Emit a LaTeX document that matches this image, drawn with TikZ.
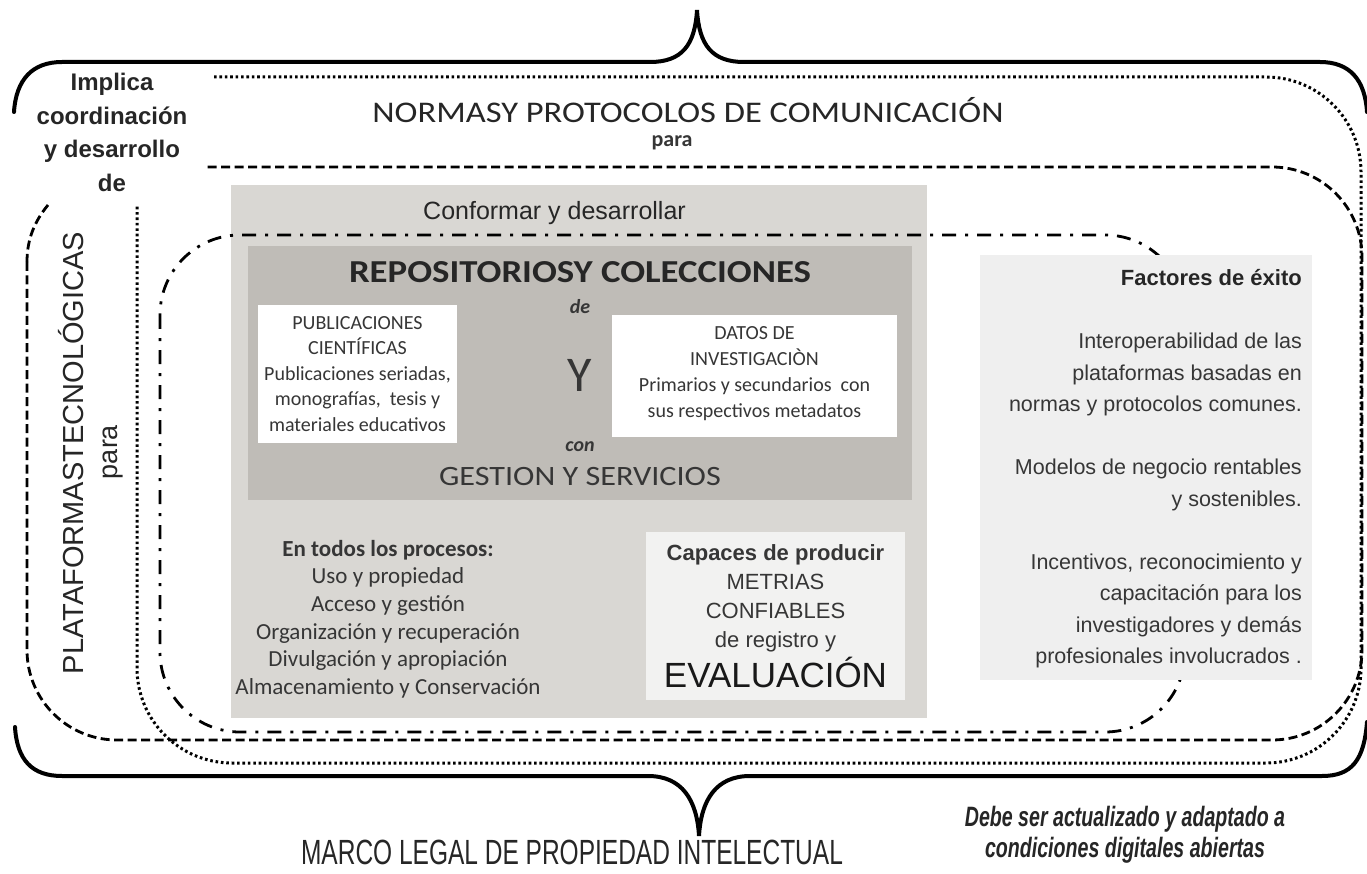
\documentclass[tikz,border=0pt]{standalone}
\usepackage{fontspec}
\setmainfont{Carlito}
\newfontfamily\titulo{Carlito}[FakeStretch=1.15]
\newfontfamily\arial{Liberation Sans}
\newfontfamily\estrecha{Liberation Sans}[FakeStretch=0.7]
\usepackage{xcolor}
\usepackage{tikz}
\usetikzlibrary{calc}
\usetikzlibrary{positioning}
\definecolor{grisclaro}{HTML}{D9D7D3}
\definecolor{grisoscuro}{HTML}{BFBCB7}
\definecolor{grisfondo}{HTML}{F2F2F1}
\definecolor{grisfactor}{HTML}{EFEFEF}
\definecolor{gristexto}{HTML}{363636}
\newcommand{\tam}[2]{\fontsize{#1pt}{#2pt}\selectfont}
\tikzstyle{llave} = [line width=4pt, line cap=round]
\tikzstyle{punteado} = [line width=3pt, dash pattern=on 2.6pt off 2.8pt]
\tikzstyle{rayado} = [line width=2.8pt, dash pattern=on 9pt off 4.5pt]
\tikzstyle{rayapunto} = [line width=2.8pt, dash pattern=on 14pt off 9pt on 3pt off 9pt]
\tikzstyle{caja} = [inner sep=0pt, outer sep=0pt, draw=none]
\tikzstyle{texto} = [inner sep=0pt, align=center, text=gristexto]

\begin{document}
\begin{tikzpicture}[x=1pt, y=-1pt]
\fill[white] (0,0) rectangle (1367,874);
\useasboundingbox (0,0) rectangle (1367,874);
% llaves
\draw[llave] (14,112) .. controls (16,80) and (32,62) .. (62,62) -- (650,62)
  .. controls (682,62) and (695,45) .. (697,10) .. controls (699,45) and (712,62) .. (744,62)
  -- (1320,62) .. controls (1350,62) and (1365,80) .. (1367,112);
\draw[llave] (15,727) .. controls (17,760) and (32,776) .. (62,776) -- (648,776)
  .. controls (682,776) and (697,800) .. (699,836) .. controls (701,800) and (716,776) .. (750,776)
  -- (1322,776) .. controls (1352,776) and (1364,760) .. (1367,722);
% contornos
\draw[punteado, rounded corners=95pt] (214,77) -- (1361,77) -- (1361,763) -- (137,763) -- (137,205);
\draw[rayado] (48,205) .. controls (34,222) and (27,240) .. (27,262);
\draw[rayado, rounded corners=90pt] (27,262) -- (27,740) -- (1362,740) -- (1362,167) -- (205,167);
% cajas
\node[caja, fill=grisclaro, minimum width=696pt, minimum height=533pt] (conformar) at (579,451.5) {};
\node[caja, fill=grisoscuro, minimum width=664pt, minimum height=254pt] (repositorios) at (580,373) {};
\draw[rayapunto, rounded corners=80pt] (160,235) rectangle (1185,732);
\node[caja, fill=white, minimum width=199pt, minimum height=138pt] (publicaciones) at (357.5,374) {};
\node[caja, fill=white, minimum width=285pt, minimum height=122pt] (datos) at (754.5,376) {};
\node[caja, fill=grisfondo, minimum width=259pt, minimum height=168pt] (metrias) at (775.5,616) {};
\node[caja, fill=grisfactor, minimum width=332pt, minimum height=425pt] (factores) at (1146,467.5) {};
% textos
\node[texto, font=\arial\bfseries\tam{24}{33.5}, text=black!85] (implica) at (112,132.5) {Implica\\coordinación\\y desarrollo\\de};
\node[texto, rotate=90, font=\arial\tam{29}{30}, text=black!85] (plataformas) at (71,453) {PLATAFORMASTECNOLÓGICAS};
\node[texto, rotate=90, font=\arial\tam{27}{28}, text=black!85] (paraPlat) at (113,452) {para};
\node[texto, font=\titulo\tam{30}{32}, text=black!85] (normas) at (688,110) {NORMASY PROTOCOLOS DE COMUNICACIÓN};
\node[texto, font=\bfseries\tam{22}{24}] (paraNormas) at (672,143) {para};
\node[texto, anchor=west, font=\arial\tam{25}{27}, text=black!85] (conformarTxt) at (423,213) {Conformar y desarrollar};
\node[texto, font=\titulo\bfseries\tam{32}{34}, text=black!85] (repoTxt) at (580,272) {REPOSITORIOSY COLECCIONES};
\node[texto, font=\bfseries\itshape\tam{20}{22}] (de) at (580,307) {de};
\node[texto, font=\tam{50}{52}] (yTxt) at (580,375) {Y};
\node[texto, font=\bfseries\itshape\tam{20}{22}] (con) at (580,447) {con};
\node[texto, font=\titulo\tam{28}{30}] (gestion) at (580,477) {GESTION Y SERVICIOS};
\node[texto, font=\tam{20}{25.5}] (pubTxt) at (357.5,374) {PUBLICACIONES\\CIENTÍFICAS\\Publicaciones seriadas,\\monografías,\ \ tesis y\\materiales educativos};
\node[texto, font=\tam{20}{26}] (datosTxt) at (754.5,374) {DATOS DE\\INVESTIGACIÒN\\Primarios y secundarios\ \ con\\sus respectivos metadatos};
\node[texto, font=\tam{23}{27.6}] (procesos) at (388,619) {\textbf{En todos los procesos:}\\Uso y propiedad\\Acceso y gestión\\Organización y recuperación\\Divulgación y apropiación\\Almacenamiento y Conservación};
\node[texto, font=\arial\tam{22}{29}] (metTxt) at (775.5,598.5) {\textbf{Capaces de producir}\\METRIAS\\CONFIABLES\\de registro y};
\node[texto, font=\arial\tam{35}{36}, text=black!90] (evaluacion) at (775.5,672) {EVALUACIÓN};
\node[texto, anchor=east, font=\arial\bfseries\tam{22}{24}, text=black!85] (factTit) at (1302,278) {Factores de éxito};
\node[texto, anchor=east, align=right, font=\arial\tam{21.5}{31.5}] (factTxt) at (1302,500.5) {Interoperabilidad de las\\plataformas basadas en\\normas y protocolos comunes.\\[31.5pt]Modelos de negocio rentables\\y sostenibles.\\[31.5pt]Incentivos, reconocimiento y\\capacitación para los\\investigadores y demás\\profesionales involucrados .};
\node[texto, font=\estrecha\tam{35}{37}, text=black!85] (marco) at (572,852) {MARCO LEGAL DE PROPIEDAD INTELECTUAL};
\node[texto, font=\estrecha\bfseries\itshape\tam{28}{31}, text=black!85] (debe) at (1125,835) {Debe ser actualizado y adaptado a\\condiciones digitales abiertas};
\end{tikzpicture}
\end{document}
